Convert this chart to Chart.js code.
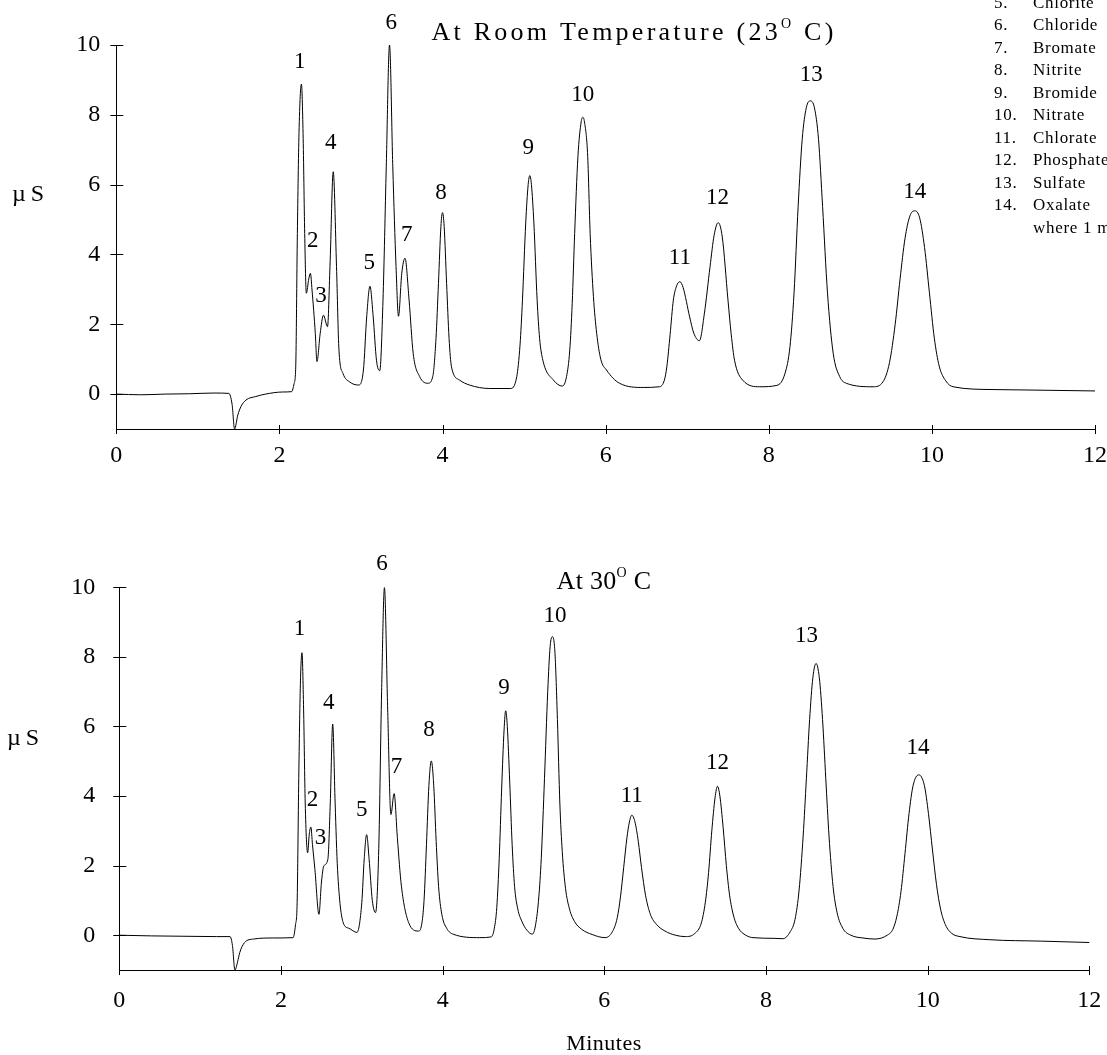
<!DOCTYPE html>
<html><head><meta charset="utf-8">
<script src="https://cdn.jsdelivr.net/npm/chart.js@4.4.1/dist/chart.umd.min.js"></script>
<style>
html,body{margin:0;padding:0;background:#fff;width:1107px;height:1055px;overflow:hidden;}
#c1{position:absolute;left:0;top:0;}
#c2{position:absolute;left:0;top:520px;}
</style></head><body>
<canvas id="c1" width="1107" height="520"></canvas>
<canvas id="c2" width="1107" height="535"></canvas>
<script>
// ---------- data ----------
const xTickValues = [0, 2, 4, 6, 8, 10, 12];
const yTickValues = [0, 2, 4, 6, 8, 10];

// At room temperature (23 C): retention time (min) and conductivity (uS)
const roomMinutes = [0.00,0.30,0.60,0.90,1.20,1.38,1.42,1.45,1.49,1.53,1.59,1.71,1.83,2.04,2.15,2.18,2.20,2.22,2.24,2.27,2.29,2.31,2.33,2.36,2.38,2.40,2.44,2.46,2.50,2.54,2.59,2.62,2.66,2.70,2.73,2.78,2.86,2.97,3.03,3.07,3.11,3.15,3.19,3.23,3.27,3.31,3.35,3.39,3.43,3.46,3.50,3.54,3.59,3.64,3.72,3.82,3.88,3.92,3.95,3.98,4.00,4.02,4.05,4.08,4.11,4.21,4.33,4.58,4.83,4.91,4.95,4.98,5.02,5.05,5.07,5.09,5.12,5.16,5.19,5.23,5.36,5.47,5.52,5.56,5.59,5.62,5.66,5.70,5.72,5.74,5.78,5.81,5.85,5.89,5.94,6.01,6.17,6.46,6.66,6.72,6.75,6.79,6.83,6.87,6.91,6.95,7.03,7.08,7.15,7.21,7.28,7.33,7.38,7.43,7.50,7.54,7.58,7.68,7.89,8.10,8.20,8.26,8.31,8.36,8.41,8.46,8.51,8.56,8.61,8.66,8.72,8.79,8.87,8.95,9.28,9.40,9.48,9.55,9.61,9.67,9.73,9.79,9.85,9.91,9.97,10.03,10.09,10.17,10.26,10.75,11.40,12.00];
const roomMicroS  = [0.00,-0.02,0.00,0.01,0.03,0.02,-0.30,-1.00,-0.60,-0.35,-0.17,-0.07,0.00,0.06,0.07,0.30,0.78,4.60,7.47,8.88,7.47,4.60,2.89,3.30,3.46,2.98,1.74,0.93,1.74,2.26,1.93,3.65,6.37,3.65,1.26,0.59,0.35,0.26,0.69,2.21,3.09,2.21,0.97,0.67,2.69,6.51,10.00,6.51,3.65,2.23,3.46,3.89,2.69,1.17,0.50,0.31,0.50,1.60,3.17,4.80,5.20,4.80,3.17,1.60,0.78,0.40,0.26,0.16,0.16,0.50,1.40,2.69,4.90,6.00,6.26,6.00,4.90,2.69,1.60,0.97,0.40,0.23,0.50,1.26,2.60,4.60,6.80,7.80,7.93,7.80,6.80,4.60,2.80,1.74,1.00,0.69,0.31,0.19,0.21,0.40,0.78,1.70,2.69,3.10,3.22,3.05,2.21,1.75,1.53,2.30,3.65,4.55,4.91,4.50,2.69,1.70,0.97,0.40,0.21,0.25,0.60,1.36,2.90,5.37,7.30,8.20,8.40,8.20,7.30,5.37,2.90,1.17,0.50,0.31,0.21,0.35,0.90,2.00,3.30,4.45,5.10,5.25,5.05,4.20,2.90,1.60,0.80,0.38,0.21,0.13,0.11,0.09];

// At 30 C
const warmMinutes = [0.00,0.40,0.80,1.20,1.37,1.40,1.43,1.47,1.49,1.55,
  1.66,1.90,2.15,2.18,2.20,2.22,2.24,2.26,2.28,2.30,
  2.33,2.35,2.37,2.39,2.42,2.47,2.50,2.53,2.58,2.61,
  2.64,2.67,2.70,2.77,2.84,2.94,3.00,3.03,3.06,3.09,
  3.13,3.17,3.21,3.245,3.28,3.32,3.36,3.40,3.44,3.49,
  3.58,3.70,3.74,3.77,3.80,3.83,3.86,3.89,3.92,3.95,
  3.99,4.05,4.13,4.46,4.60,4.64,4.67,4.70,4.73,4.76,
  4.78,4.80,4.83,4.86,4.89,4.93,4.98,5.04,5.11,5.15,
  5.19,5.22,5.26,5.30,5.33,5.36,5.39,5.42,5.45,5.48,
  5.52,5.57,5.63,5.72,5.85,6.01,6.10,6.16,6.20,6.24,
  6.28,6.31,6.34,6.38,6.42,6.46,6.51,6.57,6.65,6.75,
  6.88,7.00,7.12,7.20,7.25,7.29,7.33,7.37,7.40,7.43,
  7.47,7.51,7.55,7.60,7.66,7.75,7.84,8.10,8.21,8.30,
  8.36,8.41,8.46,8.50,8.54,8.58,8.62,8.66,8.70,8.74,
  8.78,8.83,8.88,8.95,9.05,9.20,9.35,9.50,9.57,9.62,
  9.67,9.72,9.77,9.82,9.89,9.96,10.01,10.06,10.11,10.16,
  10.22,10.30,10.40,10.77,11.40,12.00];
const warmMicroS = [0.00,-0.02,-0.03,-0.04,-0.04,-0.30,-1.00,-0.70,-0.50,-0.21,
  -0.11,-0.08,-0.07,0.30,0.94,4.50,7.20,8.12,6.50,3.80,
  2.37,2.90,3.11,2.60,1.89,0.60,1.50,1.99,2.18,3.80,
  6.07,3.80,1.89,0.36,0.20,0.08,0.94,2.20,2.89,2.20,
  1.00,0.65,2.50,7.00,9.99,6.50,3.47,4.07,2.80,1.41,
  0.36,0.12,0.30,1.00,2.60,4.30,5.01,4.30,2.70,1.40,
  0.60,0.20,0.03,-0.07,-0.05,0.20,0.80,2.20,4.20,5.90,
  6.45,6.00,4.40,2.60,1.40,0.75,0.40,0.15,0.03,0.30,
  1.10,2.20,4.50,7.00,8.30,8.58,8.10,6.20,3.80,2.40,
  1.35,0.75,0.40,0.17,0.02,-0.07,0.10,0.50,1.10,1.95,
  2.80,3.25,3.45,3.25,2.70,1.95,1.15,0.60,0.30,0.12,
  0.00,-0.04,0.05,0.35,0.95,1.80,3.00,3.95,4.28,4.00,
  3.10,2.00,1.15,0.55,0.20,0.00,-0.07,-0.09,-0.10,0.10,
  0.46,1.30,2.85,4.50,6.20,7.40,7.81,7.40,6.20,4.50,
  2.85,1.40,0.65,0.20,0.00,-0.08,-0.11,0.00,0.17,0.55,
  1.25,2.35,3.50,4.30,4.61,4.30,3.50,2.45,1.45,0.75,
  0.30,0.05,-0.04,-0.13,-0.17,-0.21];

// peak numbers and where they are written (in axis units)
const peakNumbers = ['1','2','3','4','5','6','7','8','9','10','11','12','13','14'];
const roomLabelMinutes = [2.25,2.41,2.51,2.63,3.10,3.37,3.56,3.98,5.05,5.72,6.91,7.37,8.52,9.79];
const roomLabelMicroS  = [9.52,4.39,2.81,7.18,3.76,10.62,4.56,5.77,7.04,8.57,3.89,5.61,9.14,5.80];
const warmLabelMinutes = [2.23,2.39,2.49,2.59,3.00,3.25,3.43,3.83,4.76,5.39,6.34,7.40,8.50,9.88];
const warmLabelMicroS  = [8.79,3.90,2.80,6.69,3.61,10.68,4.85,5.90,7.10,9.17,3.99,4.95,8.60,5.38];

// peak list (partly off the page)
const legendNumbers = ['5.','6.','7.','8.','9.','10.','11.','12.','13.','14.',''];
const legendNames = ['Chlorite','Chloride','Bromate','Nitrite','Bromide','Nitrate','Chlorate','Phosphate','Sulfate','Oxalate','where 1 m'];

// ---------- drawing ----------
const SERIF = "'Liberation Serif','Times New Roman',serif";

function drawParts(ctx, parts, cx, baseY, size, spacing) {
  ctx.save();
  ctx.letterSpacing = spacing + 'px';
  ctx.textBaseline = 'alphabetic';
  ctx.fillStyle = '#000';
  let total = 0;
  const widths = parts.map(p => {
    ctx.font = (p.sup ? Math.round(size * 0.55) : size) + 'px ' + SERIF;
    const w = ctx.measureText(p.t).width;
    total += w;
    return w;
  });
  let x = cx - total / 2;
  parts.forEach((p, i) => {
    ctx.font = (p.sup ? Math.round(size * 0.55) : size) + 'px ' + SERIF;
    ctx.textAlign = 'left';
    ctx.fillText(p.t, x, p.sup ? baseY - size * 0.45 : baseY);
    x += widths[i];
  });
  ctx.restore();
}

function decorPlugin(cfg) {
  return {
    id: 'decor',
    afterDraw(chart) {
      const ctx = chart.ctx;
      const xs = chart.scales.x, ys = chart.scales.y;
      const area = chart.chartArea;
      ctx.save();
      ctx.strokeStyle = '#000';
      ctx.lineWidth = 1;
      xTickValues.forEach(v => {
        const px = Math.round(xs.getPixelForValue(v)) + 0.5;
        ctx.beginPath(); ctx.moveTo(px, area.bottom - 4); ctx.lineTo(px, area.bottom + 5); ctx.stroke();
      });
      yTickValues.forEach(v => {
        const py = Math.round(ys.getPixelForValue(v)) + 0.5;
        ctx.beginPath(); ctx.moveTo(area.left - 6, py); ctx.lineTo(area.left + 7, py); ctx.stroke();
      });
      ctx.fillStyle = '#000';
      ctx.font = '23px ' + SERIF;
      ctx.textAlign = 'center';
      ctx.textBaseline = 'middle';
      peakNumbers.forEach((n, i) => {
        ctx.fillText(n, xs.getPixelForValue(cfg.labelX[i]), ys.getPixelForValue(cfg.labelY[i]));
      });
      ctx.font = '24px ' + SERIF;
      ctx.textAlign = 'left';
      ctx.textBaseline = 'alphabetic';
      ctx.letterSpacing = '5px';
      ctx.fillText('\u00b5S', cfg.unitX, cfg.unitY);
      ctx.letterSpacing = '0px';
      drawParts(ctx, cfg.title, cfg.titleX, cfg.titleY, 26, cfg.titleSpacing);
      if (cfg.xTitle) {
        drawParts(ctx, [{t: cfg.xTitle}], cfg.xTitleX, cfg.xTitleY, 22, 0.5);
      }
      if (cfg.legend) {
        ctx.font = '17px ' + SERIF;
        ctx.letterSpacing = '0.7px';
        ctx.textAlign = 'left';
        ctx.textBaseline = 'middle';
        legendNames.forEach((name, i) => {
          const y = 3.5 + 22.5 * i;
          ctx.fillText(legendNumbers[i], 994, y);
          ctx.fillText(name, 1033, y);
        });
        ctx.letterSpacing = '0px';
      }
      ctx.restore();
    }
  };
}

function makeChart(id, times, signals, cfg) {
  const pts = times.map((t, i) => ({x: t, y: signals[i]}));
  return new Chart(document.getElementById(id), {
    type: 'line',
    data: {datasets: [{data: pts, borderColor: '#000', borderWidth: 1, pointRadius: 0,
      fill: false, cubicInterpolationMode: 'monotone', clip: false}]},
    options: {
      responsive: false, animation: false, devicePixelRatio: 1,
      layout: {padding: {top: cfg.padTop, right: cfg.padRight, left: 0, bottom: 0}},
      plugins: {legend: {display: false}, tooltip: {enabled: false}, title: {display: false}},
      scales: {
        x: {
          type: 'linear', min: 0, max: 12,
          afterBuildTicks: s => { s.ticks = xTickValues.map(v => ({value: v})); },
          afterFit: s => { s.height = cfg.xAxisHeight; s.paddingLeft = 0; s.paddingRight = 0; },
          grid: {display: true, drawOnChartArea: false, drawTicks: false},
          border: {display: true, color: '#000', width: 1},
          ticks: {padding: cfg.xPad, color: '#000', font: {family: SERIF, size: 24}, maxRotation: 0, autoSkip: false}
        },
        y: {
          type: 'linear', min: -1, max: 10,
          afterBuildTicks: s => { s.ticks = yTickValues.map(v => ({value: v})); },
          afterFit: s => { s.width = cfg.yAxisWidth; s.paddingTop = 0; s.paddingBottom = 0; },
          grid: {display: true, drawOnChartArea: false, drawTicks: false},
          border: {display: true, color: '#000', width: 1},
          ticks: {padding: cfg.yPad, color: '#000', font: {family: SERIF, size: 24}}
        }
      }
    },
    plugins: [decorPlugin(cfg)]
  });
}

makeChart('c1', roomMinutes, roomMicroS, {
  padTop: 45, padRight: 12, xAxisHeight: 91, yAxisWidth: 116.3, xPad: 12, yPad: 16,
  labelX: roomLabelMinutes, labelY: roomLabelMicroS,
  unitX: 12, unitY: 201,
  title: [{t: 'At Room Temperature (23'}, {t: 'O', sup: true}, {t: ' C)'}],
  titleX: 634, titleY: 40, titleSpacing: 3.25,
  legend: true
});

makeChart('c2', warmMinutes, warmMicroS, {
  padTop: 67.3, padRight: 17.7, xAxisHeight: 85, yAxisWidth: 119.3, xPad: 16, yPad: 24,
  labelX: warmLabelMinutes, labelY: warmLabelMicroS,
  unitX: 7, unitY: 225,
  title: [{t: 'At 30'}, {t: 'O', sup: true}, {t: ' C'}],
  titleX: 604, titleY: 69, titleSpacing: 0.3,
  xTitle: 'Minutes', xTitleX: 604, xTitleY: 530
});
</script>
</body></html>
